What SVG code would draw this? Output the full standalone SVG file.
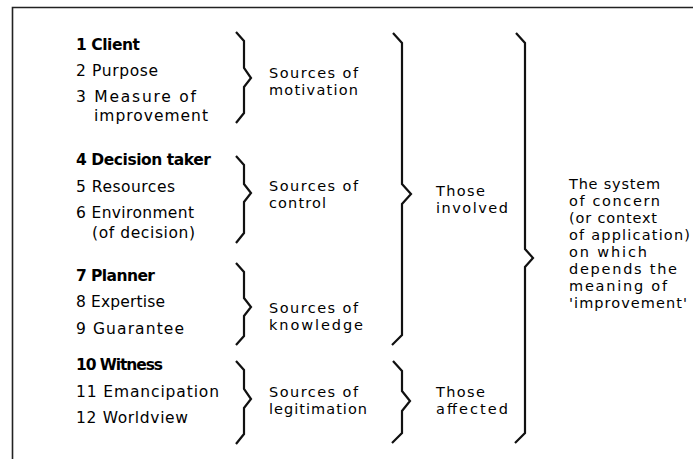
<svg xmlns="http://www.w3.org/2000/svg" width="693" height="459" viewBox="0 0 693 459">
<style>
text{font-family:"DejaVu Sans","Liberation Sans",sans-serif;font-size:14.5px;fill:#000;}
.l{font-size:15.5px;}
.b{font-weight:bold;}
.brace{fill:none;stroke:#111;stroke-width:2.2;stroke-linejoin:miter;stroke-linecap:butt;}
.frame{fill:none;stroke:#222;stroke-width:1.6;}
</style>
<rect width="693" height="459" fill="#fff"/>
<path class="frame" d="M12.5,459 V7.5 H693"/>
<g id="group-motivation">
<text class="l b" x="76" y="50" textLength="64" lengthAdjust="spacing">1 Client</text>
<text class="l" x="76" y="76" textLength="82" lengthAdjust="spacing">2 Purpose</text>
<text class="l" x="76" y="102" textLength="120" lengthAdjust="spacing">3 Measure of</text>
<text class="l" x="94" y="121" textLength="114" lengthAdjust="spacing">improvement</text>
</g>
<g id="group-control">
<text class="l b" x="76" y="165" textLength="135" lengthAdjust="spacing">4 Decision taker</text>
<text class="l" x="76" y="192" textLength="99" lengthAdjust="spacing">5 Resources</text>
<text class="l" x="76" y="218" textLength="118" lengthAdjust="spacing">6 Environment</text>
<text class="l" x="92" y="238" textLength="103" lengthAdjust="spacing">(of decision)</text>
</g>
<g id="group-knowledge">
<text class="l b" x="76" y="281" textLength="79" lengthAdjust="spacing">7 Planner</text>
<text class="l" x="76" y="307" textLength="89" lengthAdjust="spacing">8 Expertise</text>
<text class="l" x="76" y="334" textLength="108" lengthAdjust="spacing">9 Guarantee</text>
</g>
<g id="group-legitimation">
<text class="l b" x="76" y="370" textLength="87" lengthAdjust="spacing">10 Witness</text>
<text class="l" x="76" y="397" textLength="143" lengthAdjust="spacing">11 Emancipation</text>
<text class="l" x="76" y="423" textLength="112" lengthAdjust="spacing">12 Worldview</text>
</g>
<g id="sources-motivation">
<text x="269" y="78" textLength="89" lengthAdjust="spacing">Sources of</text>
<text x="269" y="95" textLength="89" lengthAdjust="spacing">motivation</text>
</g>
<g id="sources-control">
<text x="269" y="191" textLength="89" lengthAdjust="spacing">Sources of</text>
<text x="269" y="208" textLength="57" lengthAdjust="spacing">control</text>
</g>
<g id="sources-knowledge">
<text x="269" y="313" textLength="89" lengthAdjust="spacing">Sources of</text>
<text x="269" y="330" textLength="94" lengthAdjust="spacing">knowledge</text>
</g>
<g id="sources-legitimation">
<text x="269" y="397" textLength="89" lengthAdjust="spacing">Sources of</text>
<text x="269" y="414" textLength="98" lengthAdjust="spacing">legitimation</text>
</g>
<g id="those-involved">
<text x="436" y="196" textLength="49" lengthAdjust="spacing">Those</text>
<text x="436" y="213" textLength="72" lengthAdjust="spacing">involved</text>
</g>
<g id="those-affected">
<text x="436" y="397" textLength="49" lengthAdjust="spacing">Those</text>
<text x="436" y="414" textLength="72" lengthAdjust="spacing">affected</text>
</g>
<g id="system-of-concern">
<text x="569" y="189" textLength="91" lengthAdjust="spacing">The system</text>
<text x="569" y="206" textLength="91" lengthAdjust="spacing">of concern</text>
<text x="569" y="223" textLength="88" lengthAdjust="spacing">(or context</text>
<text x="569" y="240" textLength="121" lengthAdjust="spacing">of application)</text>
<text x="569" y="257" textLength="78" lengthAdjust="spacing">on which</text>
<text x="569" y="274" textLength="108" lengthAdjust="spacing">depends the</text>
<text x="569" y="291" textLength="98" lengthAdjust="spacing">meaning of</text>
<text x="569" y="308" textLength="118" lengthAdjust="spacing">'improvement'</text>
</g>
<g id="connectors">
<polyline class="brace" points="236,32 244,41 244,68 251,78 244,87 244,113 236,123"/>
<polyline class="brace" points="236,156 244,165 244,184 251,193 244,202 244,233 236,243"/>
<polyline class="brace" points="236,263 244,272 244,298 251,307 244,316 244,336 236,345"/>
<polyline class="brace" points="236,361 244,370 244,389 251,399 244,408 244,434 236,444"/>
<polyline class="brace" points="393,33 402,43 402,184 411,194 402,204 402,335 392,345"/>
<polyline class="brace" points="393,361 402,371 402,391 410,401 402,411 402,433 392,443"/>
<polyline class="brace" points="516,33 525,43 525,249 533,258 525,267 525,433 515,443"/>
</g>
</svg>
